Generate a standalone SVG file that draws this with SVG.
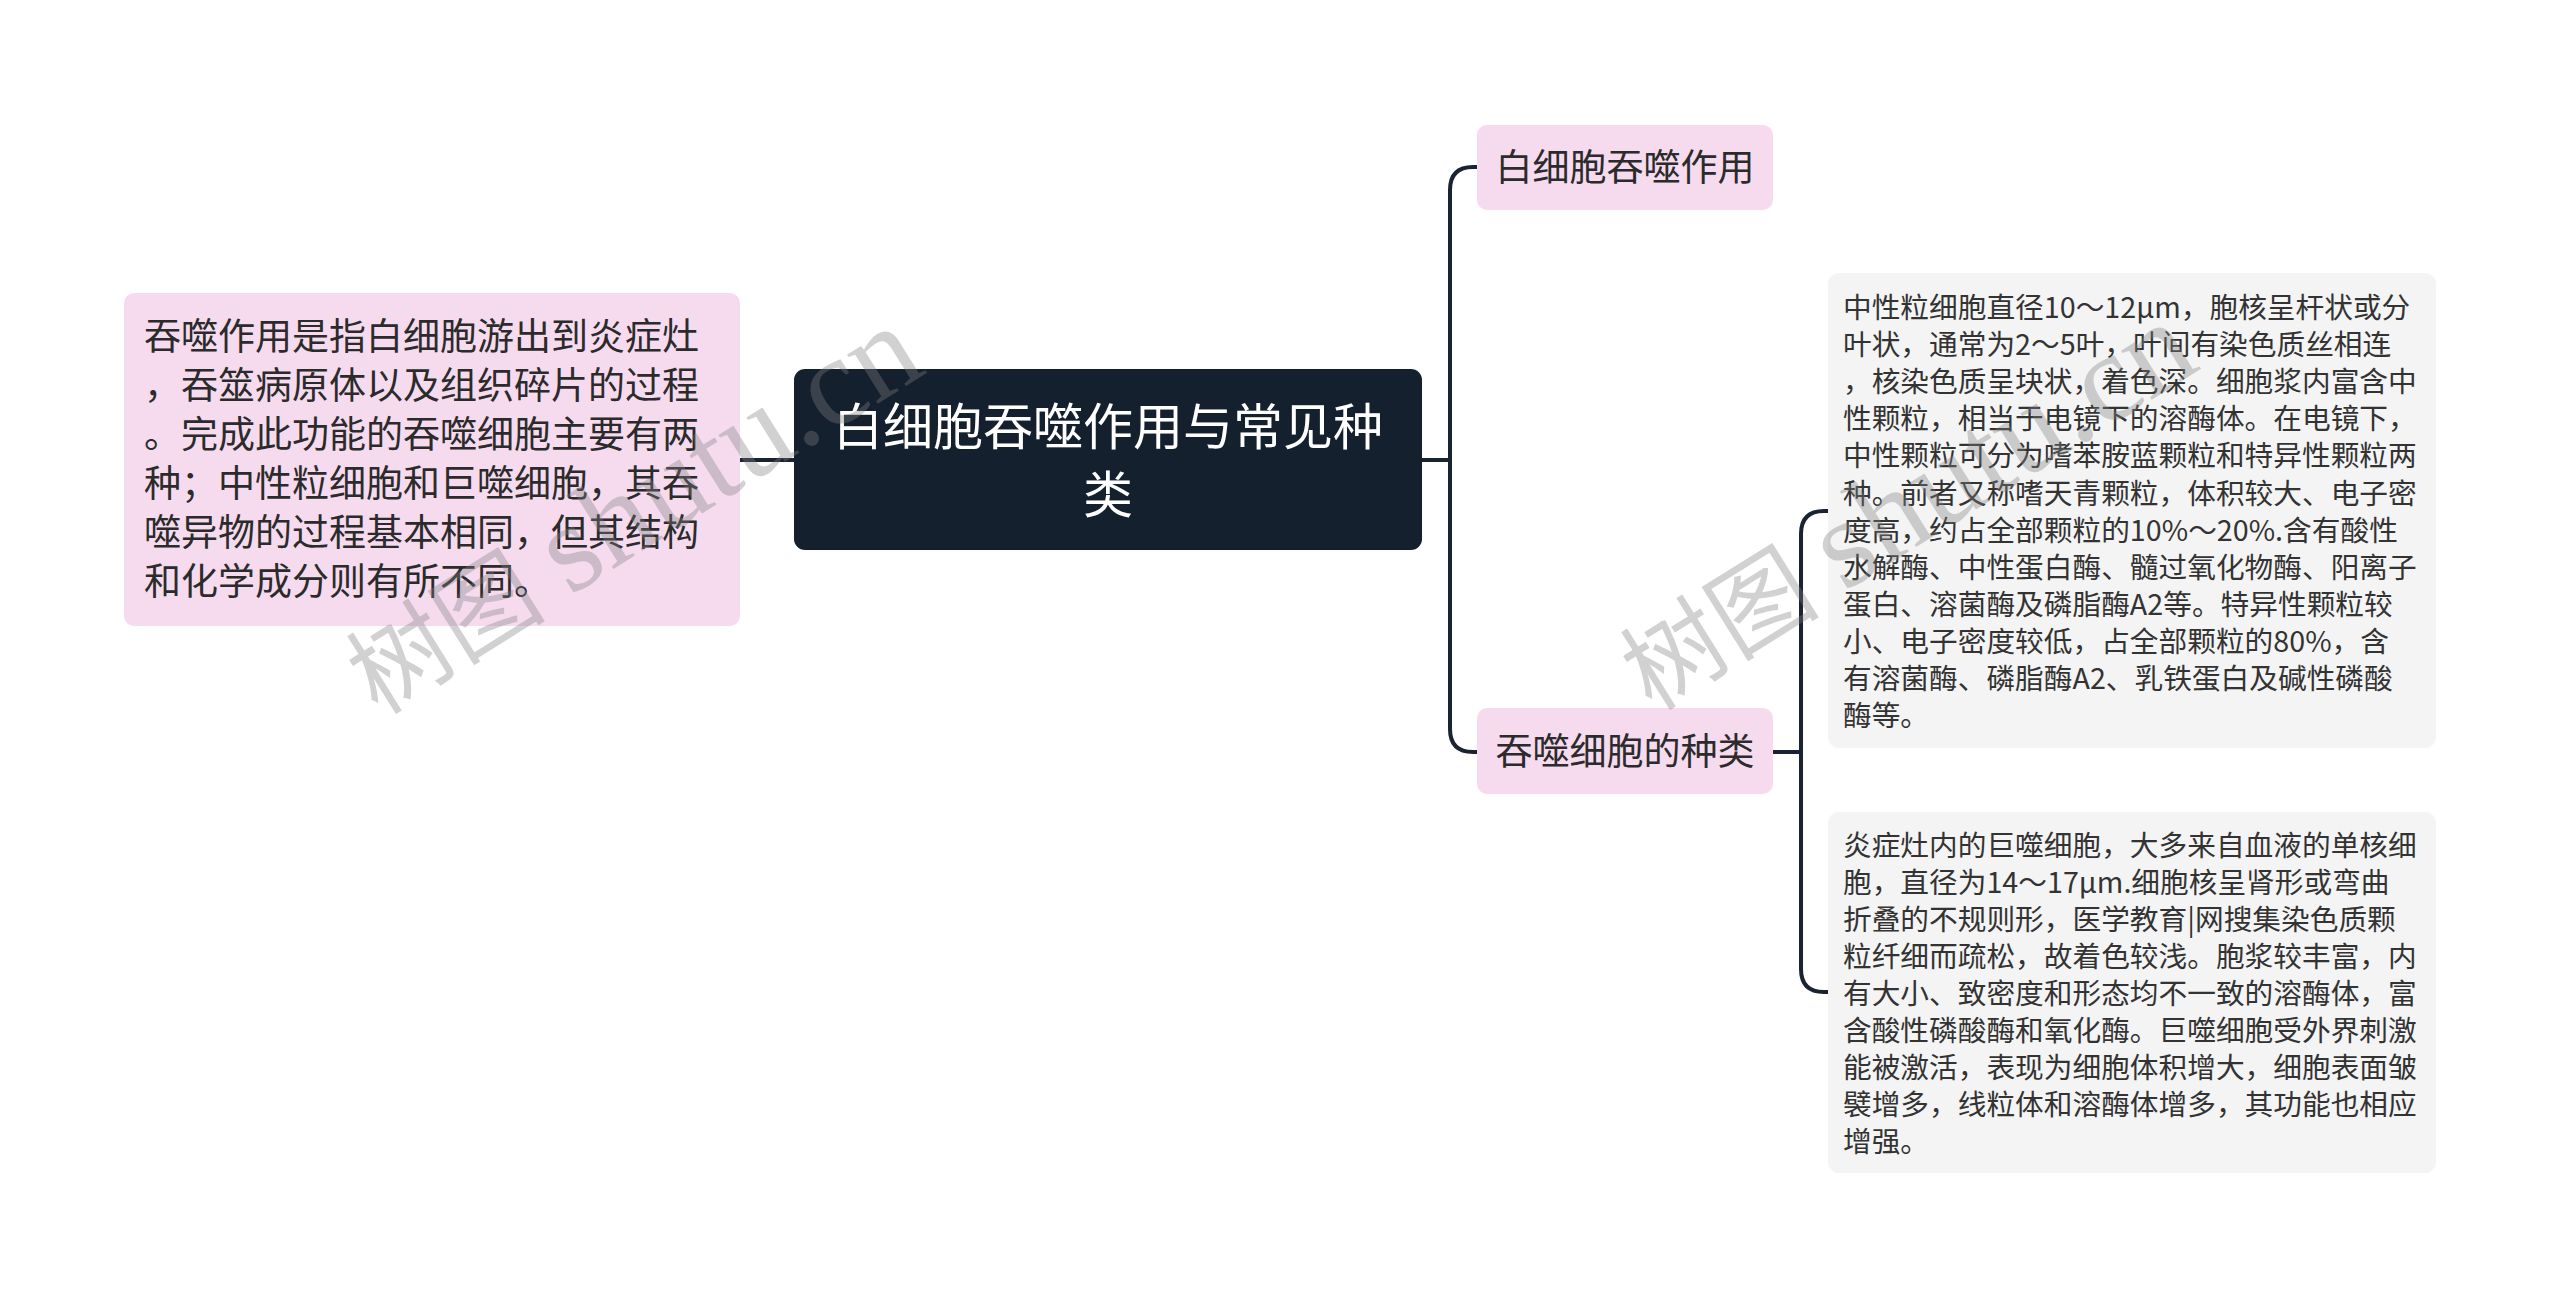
<svg xmlns="http://www.w3.org/2000/svg" width="2560" height="1299" viewBox="0 0 2560 1299">
<style>
.pink{fill:#f6dbef}
.dark{fill:#15202f}
.grey{fill:#f4f4f4}
.t{font-family:"Noto Sans CJK SC","Noto Sans",sans-serif;fill:#2b2b2b}
.lt{font-size:37px}
.rt{font-size:37px;text-anchor:middle}
.ct{font-size:50px;fill:#ffffff;text-anchor:middle}
.dt{font-size:28.7px;fill:#333333}
.conn{fill:none;stroke:#1a2332;stroke-width:4;stroke-linecap:round;stroke-linejoin:round}
.wm{fill:#808080;fill-opacity:0.36}
.wmc{font-family:"Noto Sans CJK SC",sans-serif;font-size:100px}
.wml{font-family:"Liberation Serif",serif;font-size:126px}
</style>
<rect width="2560" height="1299" fill="#ffffff"/>
<g id="connectors">
<path class="conn" d="M740 460 H795"/>
<path class="conn" d="M1422 460 H1450"/>
<path class="conn" d="M1450 460 V190 Q1450 167 1473 167 H1477"/>
<path class="conn" d="M1450 460 V729 Q1450 752 1473 752 H1477"/>
<path class="conn" d="M1773 752 H1801"/>
<path class="conn" d="M1801 752 V534 Q1801 511 1824 511 H1828"/>
<path class="conn" d="M1801 752 V969 Q1801 992 1824 992 H1828"/>
</g>
<g id="node-left">
<rect class="pink" x="124" y="293" width="616" height="333" rx="10"/>
<text class="t lt" x="144" y="350">吞噬作用是指白细胞游出到炎症灶</text>
<text class="t lt" x="144" y="399">，吞筮病原体以及组织碎片的过程</text>
<text class="t lt" x="144" y="448">。完成此功能的吞噬细胞主要有两</text>
<text class="t lt" x="144" y="497">种；中性粒细胞和巨噬细胞，其吞</text>
<text class="t lt" x="144" y="546">噬异物的过程基本相同，但其结构</text>
<text class="t lt" x="144" y="595">和化学成分则有所不同。</text>
</g>
<g id="node-center">
<rect class="dark" x="794" y="369" width="628" height="181" rx="11"/>
<text class="t ct" x="1108" y="445">白细胞吞噬作用与常见种</text>
<text class="t ct" x="1108" y="513">类</text>
</g>
<g id="node-r1">
<rect class="pink" x="1477" y="125" width="296" height="85" rx="10"/>
<text class="t rt" x="1625" y="181">白细胞吞噬作用</text>
</g>
<g id="node-r2">
<rect class="pink" x="1477" y="708" width="296" height="86" rx="10"/>
<text class="t rt" x="1625" y="765">吞噬细胞的种类</text>
</g>
<g id="node-d1">
<rect class="grey" x="1828" y="273" width="608" height="475" rx="11"/>
<text class="t dt" x="1843" y="318">中性粒细胞直径10～12μm，胞核呈杆状或分</text>
<text class="t dt" x="1843" y="355.1">叶状，通常为2～5叶，叶间有染色质丝相连</text>
<text class="t dt" x="1843" y="392.2">，核染色质呈块状，着色深。细胞浆内富含中</text>
<text class="t dt" x="1843" y="429.3">性颗粒，相当于电镜下的溶酶体。在电镜下，</text>
<text class="t dt" x="1843" y="466.4">中性颗粒可分为嗜苯胺蓝颗粒和特异性颗粒两</text>
<text class="t dt" x="1843" y="503.5">种。前者又称嗜天青颗粒，体积较大、电子密</text>
<text class="t dt" x="1843" y="540.6">度高，约占全部颗粒的10%～20%.含有酸性</text>
<text class="t dt" x="1843" y="577.7">水解酶、中性蛋白酶、髓过氧化物酶、阳离子</text>
<text class="t dt" x="1843" y="614.8">蛋白、溶菌酶及磷脂酶A2等。特异性颗粒较</text>
<text class="t dt" x="1843" y="651.9">小、电子密度较低，占全部颗粒的80%，含</text>
<text class="t dt" x="1843" y="689">有溶菌酶、磷脂酶A2、乳铁蛋白及碱性磷酸</text>
<text class="t dt" x="1843" y="726.1">酶等。</text>
</g>
<g id="node-d2">
<rect class="grey" x="1828" y="812" width="608" height="361" rx="11"/>
<text class="t dt" x="1843" y="856">炎症灶内的巨噬细胞，大多来自血液的单核细</text>
<text class="t dt" x="1843" y="893">胞，直径为14～17μm.细胞核呈肾形或弯曲</text>
<text class="t dt" x="1843" y="930">折叠的不规则形，医学教育|网搜集染色质颗</text>
<text class="t dt" x="1843" y="967">粒纤细而疏松，故着色较浅。胞浆较丰富，内</text>
<text class="t dt" x="1843" y="1004">有大小、致密度和形态均不一致的溶酶体，富</text>
<text class="t dt" x="1843" y="1041">含酸性磷酸酶和氧化酶。巨噬细胞受外界刺激</text>
<text class="t dt" x="1843" y="1078">能被激活，表现为细胞体积增大，细胞表面皱</text>
<text class="t dt" x="1843" y="1115">襞增多，线粒体和溶酶体增多，其功能也相应</text>
<text class="t dt" x="1843" y="1152">增强。</text>
</g>
<g id="watermarks">
<text class="wm" transform="translate(378 716) rotate(-32)"><tspan class="wmc">树图</tspan><tspan class="wml" dx="26">shutu.cn</tspan></text>
<text class="wm" transform="translate(1652 712) rotate(-32)"><tspan class="wmc">树图</tspan><tspan class="wml" dx="26">shutu.cn</tspan></text>
</g>
</svg>
